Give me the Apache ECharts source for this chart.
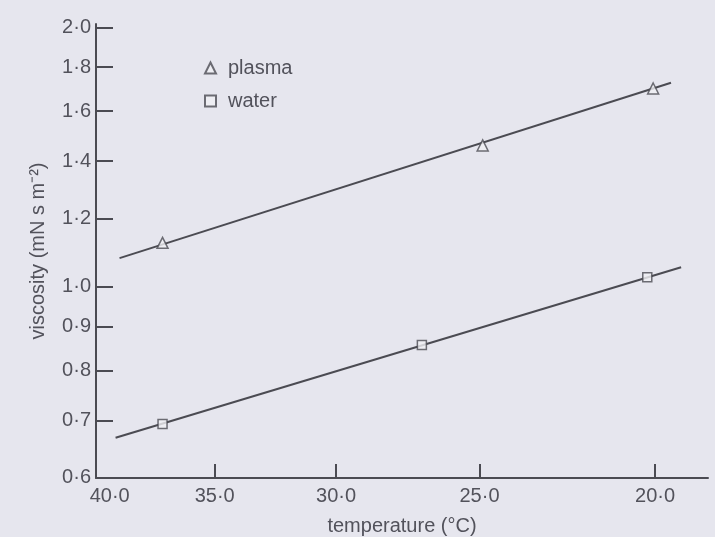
<!DOCTYPE html>
<html>
<head>
<meta charset="utf-8">
<title>viscosity vs temperature</title>
<script src="https://cdn.jsdelivr.net/npm/echarts@6/dist/echarts.min.js"></script>
<style>
    html, body { margin: 0; padding: 0; background: #e6e6ee; }
    #container { width: 715px; height: 537px; }
</style>
</head>
<body>
<div id="container"></div>
<script>
    // values (temperature in °C, viscosity in mN s m-2)
    var plasmaTemp = [37.4, 24.9, 20.05];
    var plasmaVisc = [1.125, 1.46, 1.70];
    var waterTemp = [37.4, 26.9, 20.2];
    var waterVisc = [0.693, 0.856, 1.026];

    // ends of the drawn straight lines
    var plasmaLineTemp = [39.5, 19.6];
    var plasmaLineVisc = [1.08, 1.726];
    var waterLineTemp = [39.7, 19.35];
    var waterLineVisc = [0.668, 1.054];

    var tempTicks = [40, 35, 30, 25, 20];
    var viscTicks = [0.6, 0.7, 0.8, 0.9, 1.0, 1.2, 1.4, 1.6, 1.8, 2.0];

    var ink = '#4b4b52';
    var textColor = '#52525b';
    var font = "'Liberation Sans', Arial, sans-serif";

    function pairs(xs, ys) {
        var out = [];
        for (var i = 0; i < xs.length; i++) {
            out.push([xs[i], ys[i]]);
        }
        return out;
    }

    function dotLabel(v) {
        return Number(v).toFixed(1).replace('.', '\u00b7');
    }

    var myChart = echarts.init(document.getElementById('container'));

    var option = {
        animation: false,
        backgroundColor: '#e6e6ee',
        grid: {
            left: 96,
            right: 7,
            top: 24,
            bottom: 59,
            containLabel: false,
            outerBoundsMode: 'none'
        },
        legend: {
            data: ['plasma', 'water'],
            orient: 'vertical',
            left: 199,
            top: 53,
            itemWidth: 11,
            itemHeight: 11,
            itemGap: 13,
            textStyle: {
                fontSize: 20,
                color: textColor,
                fontFamily: font,
                padding: [0, 0, 0, 7]
            }
        },
        xAxis: {
            type: 'log',
            logBase: 10,
            min: 18.7,
            max: 40.7,
            inverse: true,
            name: 'temperature (\u00b0C)',
            nameLocation: 'middle',
            nameGap: 38,
            nameTextStyle: { fontSize: 20, color: textColor, fontFamily: font },
            axisLine: { lineStyle: { color: ink, width: 2 } },
            axisTick: {
                inside: true,
                length: 14,
                customValues: tempTicks.filter(function (t) { return t !== 40; }),
                lineStyle: { color: ink, width: 2 }
            },
            axisLabel: {
                customValues: tempTicks,
                formatter: dotLabel,
                fontSize: 20,
                color: textColor,
                fontFamily: font,
                margin: 8
            },
            minorTick: { show: false },
            splitLine: { show: false }
        },
        yAxis: {
            type: 'log',
            logBase: 10,
            min: 0.5999,
            max: 2.02,
            name: 'viscosity (mN s m\u207b\u00b2)',
            nameLocation: 'middle',
            nameGap: 48,
            nameTextStyle: { fontSize: 20, color: textColor, fontFamily: font },
            axisLine: { lineStyle: { color: ink, width: 2 } },
            axisTick: {
                inside: true,
                length: 17,
                customValues: viscTicks.filter(function (v) { return v !== 0.6; }),
                lineStyle: { color: ink, width: 2 }
            },
            axisLabel: {
                customValues: viscTicks,
                formatter: dotLabel,
                fontSize: 20,
                color: textColor,
                fontFamily: font,
                margin: 5
            },
            minorTick: { show: false },
            splitLine: { show: false }
        },
        series: [{
            name: 'plasma line',
            type: 'line',
            data: pairs(plasmaLineTemp, plasmaLineVisc),
            symbol: 'none',
            silent: true,
            lineStyle: { color: ink, width: 2 }
        }, {
            name: 'water line',
            type: 'line',
            data: pairs(waterLineTemp, waterLineVisc),
            symbol: 'none',
            silent: true,
            lineStyle: { color: ink, width: 2 }
        }, {
            name: 'plasma',
            type: 'scatter',
            data: pairs(plasmaTemp, plasmaVisc),
            symbol: 'triangle',
            symbolSize: 11,
            z: 3,
            itemStyle: { color: '#f0f0f4', borderColor: ink, borderWidth: 1.5 }
        }, {
            name: 'water',
            type: 'scatter',
            data: pairs(waterTemp, waterVisc),
            symbol: 'rect',
            symbolSize: 9,
            z: 3,
            itemStyle: { color: '#f0f0f4', borderColor: ink, borderWidth: 1.5 }
        }]
    };

    myChart.setOption(option);
</script>
</body>
</html>
